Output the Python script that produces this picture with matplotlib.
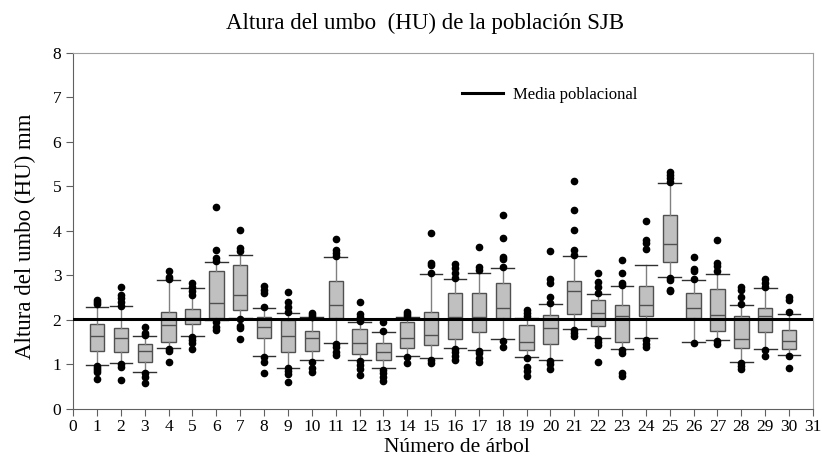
import matplotlib
matplotlib.use("Agg")
import matplotlib.pyplot as plt

plt.rcParams['font.family'] = ['Liberation Serif', 'DejaVu Serif']

trees = list(range(1, 31))
q1 = [1.31, 1.27, 1.06, 1.51, 1.92, 2.04, 2.22, 1.59, 1.27, 1.30,
      2.04, 1.24, 1.10, 1.36, 1.44, 1.57, 1.72, 2.05, 1.33, 1.45,
      2.13, 1.87, 1.50, 2.09, 3.30, 2.04, 1.76, 1.36, 1.72, 1.34]
med = [1.64, 1.59, 1.30, 1.89, 2.05, 2.39, 2.56, 1.85, 1.64, 1.59,
       2.33, 1.49, 1.27, 1.60, 1.66, 2.06, 2.06, 2.28, 1.51, 1.81,
       2.64, 2.16, 2.09, 2.33, 3.71, 2.28, 2.11, 1.57, 2.10, 1.53]
q3 = [1.90, 1.83, 1.46, 2.19, 2.24, 3.09, 3.24, 2.07, 2.00, 1.76,
      2.88, 1.80, 1.49, 1.96, 2.19, 2.61, 2.61, 2.84, 1.88, 2.11,
      2.88, 2.46, 2.33, 2.76, 4.37, 2.60, 2.69, 2.10, 2.28, 1.77]
whislo = [0.99, 1.04, 0.82, 1.36, 1.65, 1.99, 2.04, 1.19, 0.93, 1.09,
          1.49, 1.10, 0.91, 1.18, 1.15, 1.36, 1.33, 1.57, 1.16, 1.10,
          1.79, 1.59, 1.35, 1.59, 2.96, 1.51, 1.55, 1.06, 1.34, 1.21]
whishi = [2.30, 2.31, 1.64, 2.90, 2.72, 3.30, 3.47, 2.28, 2.15, 2.06,
          3.41, 1.95, 1.74, 2.07, 3.03, 2.93, 3.06, 3.17, 2.05, 2.37,
          3.44, 2.58, 2.76, 3.24, 5.07, 2.90, 3.03, 2.34, 2.71, 2.13]
fliers = [
    [2.46, 2.41, 2.36, 0.97, 0.93, 0.88, 0.82, 0.67],
    [2.75, 2.56, 2.49, 2.41, 2.32, 1.02, 0.95, 0.65],
    [1.85, 1.70, 1.66, 0.80, 0.71, 0.58],
    [3.11, 2.97, 2.92, 1.34, 1.30, 1.05],
    [2.82, 2.74, 2.64, 2.56, 1.62, 1.55, 1.48, 1.34],
    [4.55, 3.57, 3.39, 3.32, 1.96, 1.85, 1.78],
    [4.02, 3.61, 3.54, 2.02, 1.87, 1.81, 1.57],
    [2.76, 2.68, 2.60, 2.30, 1.17, 1.05, 0.80],
    [2.62, 2.41, 2.30, 2.19, 0.91, 0.85, 0.78, 0.61],
    [2.16, 2.11, 2.07, 1.05, 0.91, 0.84],
    [3.82, 3.57, 3.50, 3.43, 1.47, 1.40, 1.29, 1.21],
    [2.40, 2.13, 2.07, 1.97, 1.08, 0.99, 0.90, 0.76],
    [1.96, 1.76, 0.88, 0.80, 0.72, 0.63],
    [2.19, 2.14, 2.09, 1.16, 1.03],
    [3.96, 3.29, 3.24, 3.06, 1.10, 1.04],
    [3.26, 3.16, 3.05, 2.95, 1.34, 1.28, 1.20, 1.10],
    [3.63, 3.20, 3.12, 1.31, 1.25, 1.15, 1.06],
    [4.36, 3.84, 3.42, 3.36, 3.19, 1.53, 1.40],
    [2.22, 2.15, 2.08, 1.14, 0.95, 0.85, 0.73],
    [3.55, 2.91, 2.84, 2.52, 2.39, 1.08, 1.00, 0.90],
    [5.12, 4.47, 4.02, 3.57, 3.46, 1.77, 1.70, 1.64],
    [3.05, 2.86, 2.73, 2.60, 1.57, 1.50, 1.44, 1.05],
    [3.35, 3.06, 2.82, 2.78, 1.33, 1.25, 0.80, 0.74],
    [4.22, 3.80, 3.72, 3.59, 1.55, 1.45, 1.40],
    [5.33, 5.25, 5.18, 5.10, 2.94, 2.90, 2.67, 2.64],
    [3.41, 3.14, 3.10, 2.92, 1.49],
    [3.80, 3.29, 3.21, 3.09, 1.53, 1.45],
    [2.73, 2.68, 2.52, 2.35, 1.04, 0.96, 0.89],
    [2.91, 2.82, 2.74, 1.32, 1.18],
    [2.52, 2.45, 2.19, 1.19, 0.91],
]
media_poblacional = 2.02

stats = []
for i in range(len(trees)):
    stats.append(dict(label=str(trees[i]), med=med[i], q1=q1[i], q3=q3[i],
                      whislo=whislo[i], whishi=whishi[i], fliers=fliers[i]))

fig = plt.figure(figsize=(8.22, 4.69), dpi=100)
ax = fig.add_axes([0.089, 0.128, 0.900, 0.759])

ax.bxp(stats, positions=trees, widths=0.6, capwidths=0.95, patch_artist=True,
       boxprops=dict(facecolor='#c0c0c0', edgecolor='#505050', linewidth=1.0),
       medianprops=dict(color='#505050', linewidth=1.0),
       whiskerprops=dict(color='#808080', linewidth=1.0),
       capprops=dict(color='#303030', linewidth=1.0),
       flierprops=dict(marker='o', markerfacecolor='black', markeredgecolor='black',
                       markersize=4.5, linestyle='none'),
       manage_ticks=False)

ax.axhline(media_poblacional, color='black', linewidth=2.2, zorder=5,
           label='Media poblacional')

ax.set_xlim(0, 31)
ax.set_ylim(0, 8)
ax.set_xticks(range(0, 32))
ax.set_xticklabels([str(v) for v in range(0, 32)])
ax.set_yticks(range(0, 9))
ax.tick_params(axis='both', labelsize=12.5, color='#606060', length=5)
ax.tick_params(axis='x', pad=2)

for side in ['left', 'bottom']:
    ax.spines[side].set_color('#606060')
for side in ['top', 'right']:
    ax.spines[side].set_color('#a0a0a0')

ax.set_title('Altura del umbo  (HU) de la población SJB', fontsize=16.5, pad=17, x=0.476)
ax.set_ylabel('Altura del umbo (HU) mm', fontsize=16.5)
ax.yaxis.set_label_coords(-0.05, 0.485)
ax.set_xlabel('Número de árbol', fontsize=15.5)
ax.xaxis.set_label_coords(0.519, -0.082)

ax.legend(loc='center left', bbox_to_anchor=(0.505, 0.882), frameon=False,
          fontsize=12, handlelength=2.5, handletextpad=0.6)

fig.savefig('out.png', dpi=100)
